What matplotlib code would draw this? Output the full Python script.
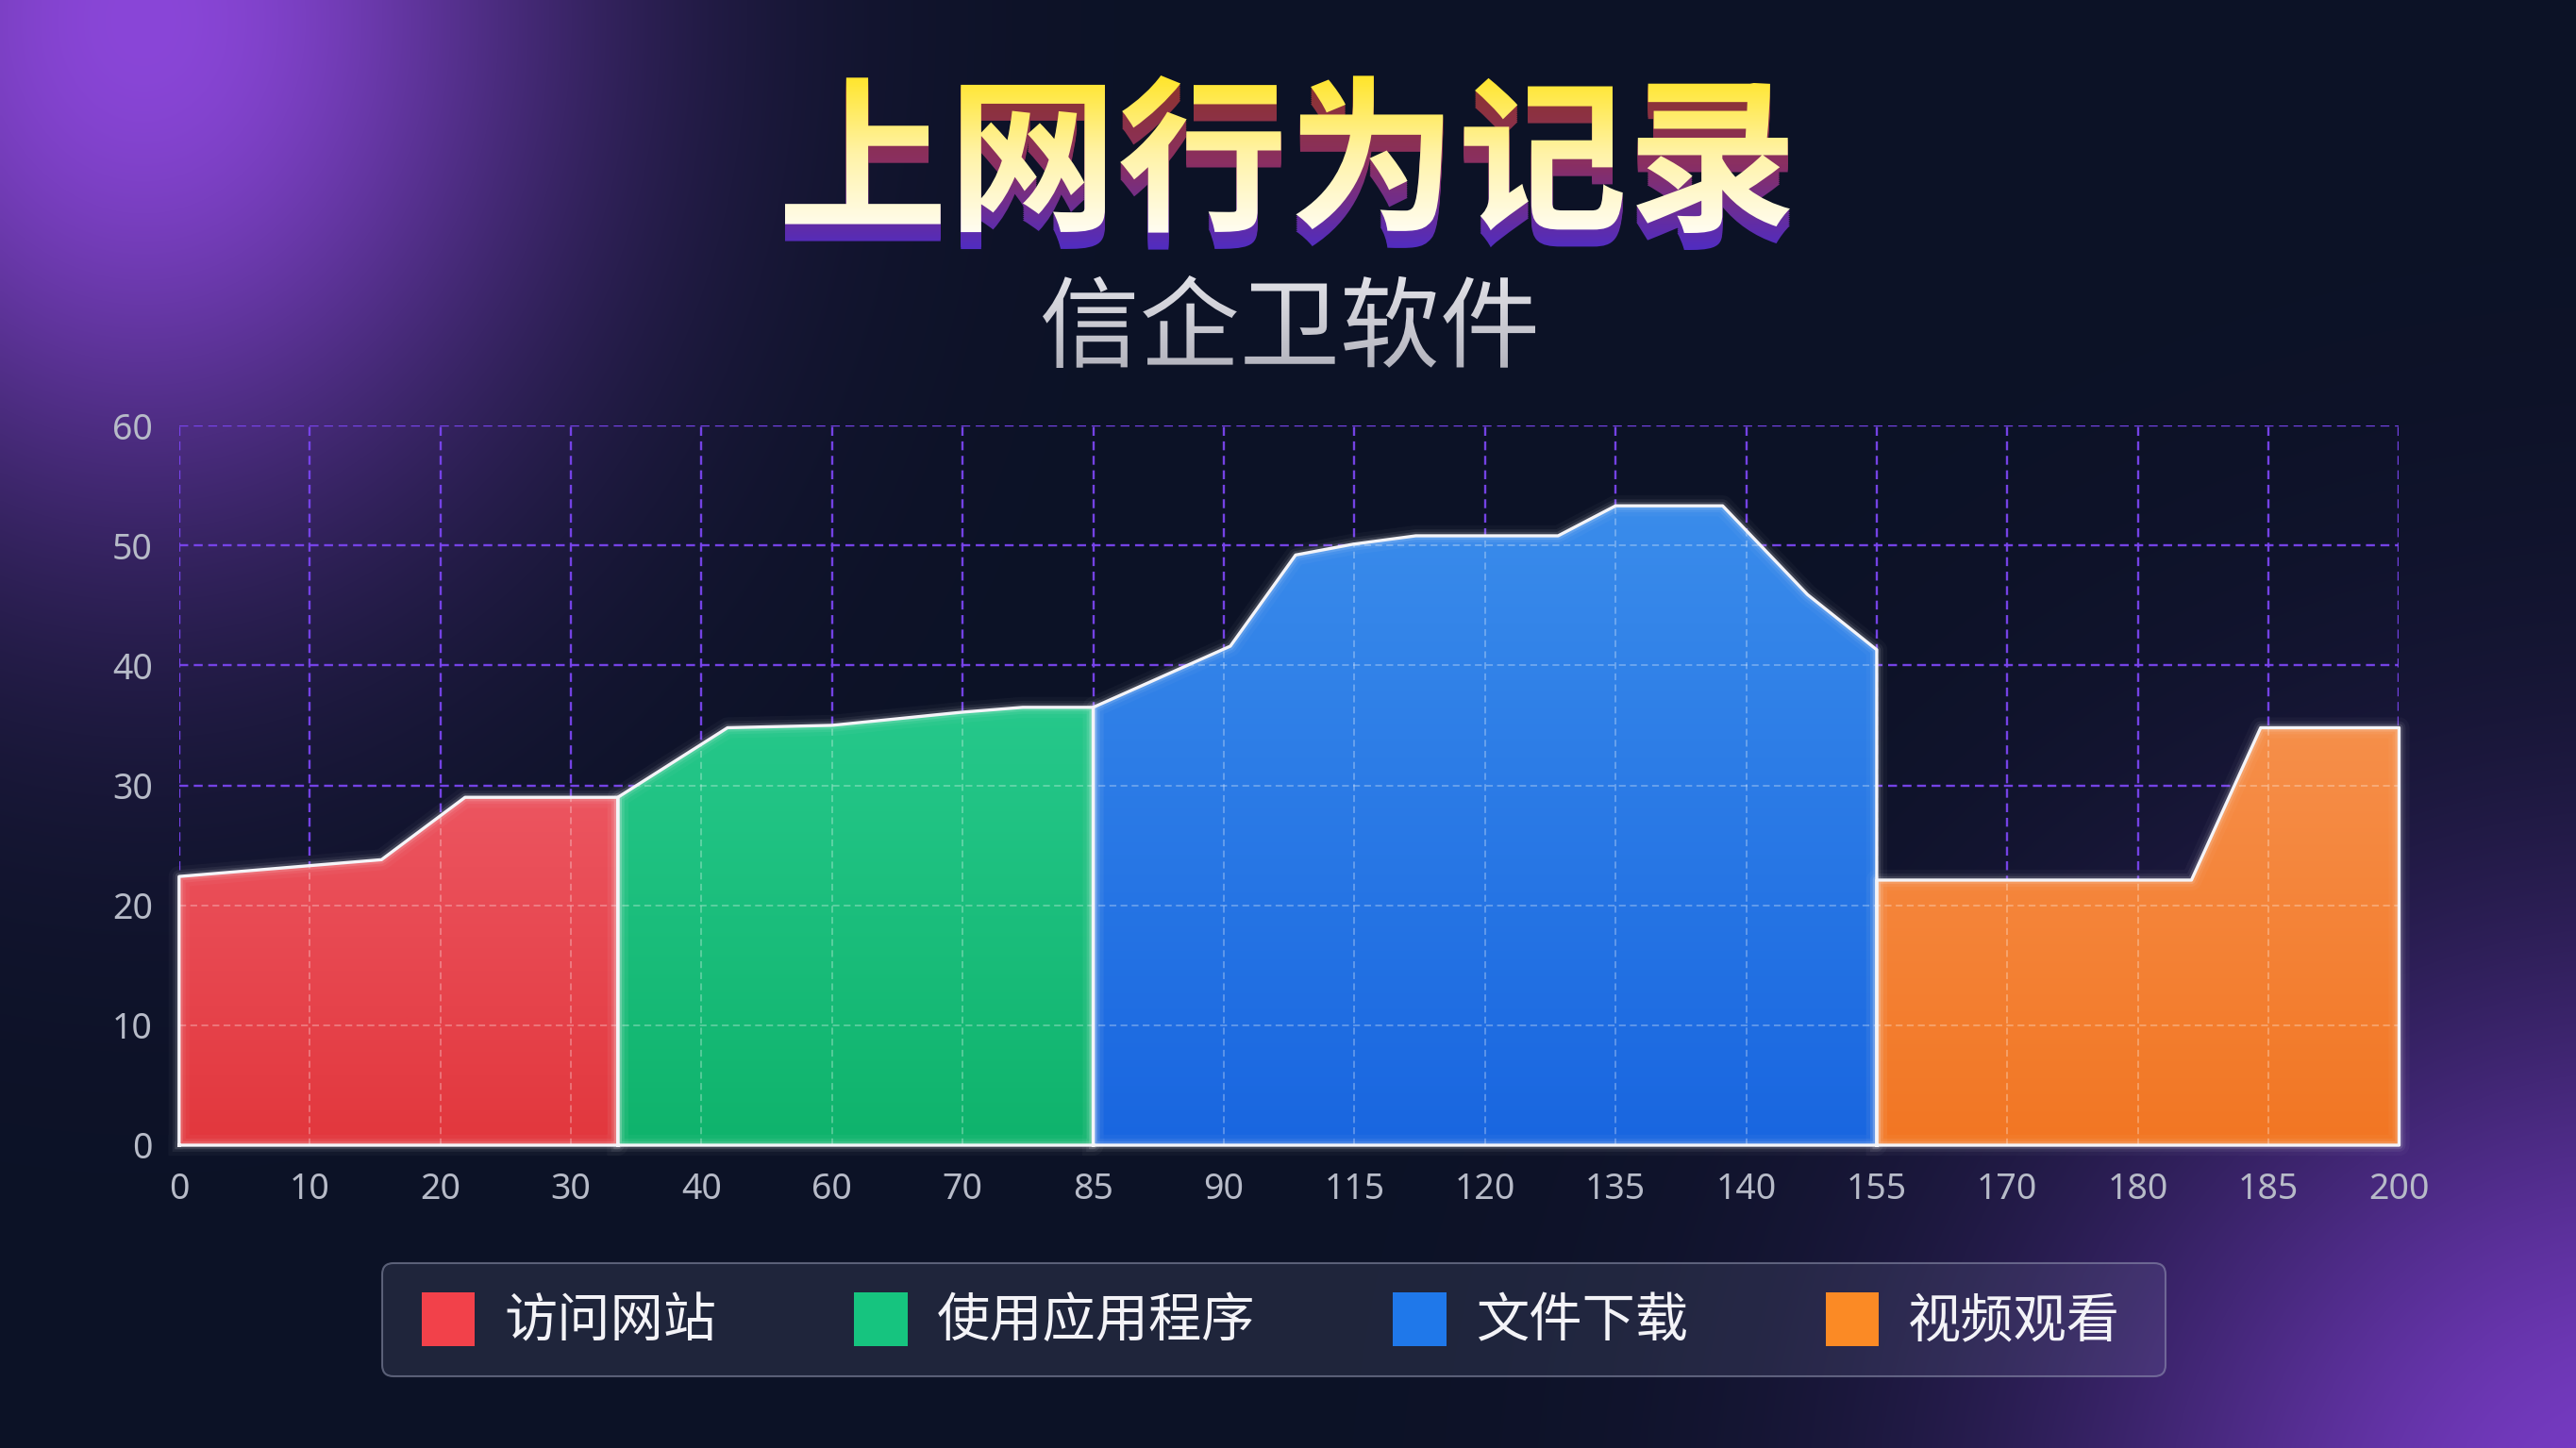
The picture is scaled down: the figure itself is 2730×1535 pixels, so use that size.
import numpy as np
import matplotlib
matplotlib.use('Agg')
import matplotlib.pyplot as plt
from matplotlib.patches import Patch, FancyBboxPatch
from matplotlib.textpath import TextPath
from matplotlib.font_manager import FontProperties
from matplotlib.transforms import Affine2D
from matplotlib.colors import to_rgb

plt.rcParams['font.family'] = ['Noto Sans', 'Noto Sans CJK SC', 'DejaVu Sans']

# --- données (x = position sur l'axe des catégories) ---
x_labels = ['0', '10', '20', '30', '40', '60', '70', '85', '90', '115',
            '120', '135', '140', '155', '170', '180', '185', '200']
y_ticks = [0, 10, 20, 30, 40, 50, 60]
series_names = ['访问网站', '使用应用程序', '文件下载', '视频观看']

visit_x = [0, 1.55, 2.19, 3.36]
visit_y = [22.4, 23.8, 29.0, 29.0]
app_x = [3.36, 4.2, 5.0, 6.0, 6.46, 7.0]
app_y = [29.0, 34.8, 35.0, 36.1, 36.5, 36.5]
download_x = [7.0, 8.05, 8.55, 8.99, 9.47, 10.56, 11.0, 11.82, 12.47, 13.0]
download_y = [36.5, 41.6, 49.2, 50.1, 50.8, 50.8, 53.3, 53.3, 45.9, 41.3]
video_x = [13.0, 15.41, 15.94, 17.0]
video_y = [22.1, 22.1, 34.8, 34.8]

title = '上网行为记录'
subtitle = '信企卫软件'

colors_top = ['#ec5560', '#26c88b', '#3a8ceb', '#f68f4a']
colors_bot = ['#e2373d', '#0fb36c', '#1966e0', '#f27623']
legend_colors = ['#f2414a', '#16c47f', '#1f78ea', '#fb8a25']

W, H = 2730, 1535
fig = plt.figure(figsize=(27.3, 15.35), dpi=100)

# fond avec halos violets
bg = fig.add_axes([0, 0, 1, 1], zorder=-10)
gy, gx = np.mgrid[0:H:4, 0:W:4]
base = np.array(to_rgb('#0c1226'))
g1 = np.exp(-((gx - 150) ** 2 / (2 * 320 ** 2) + (gy - 20) ** 2 / (2 * 380 ** 2)))
g2 = np.exp(-((gx - 2800) ** 2 + (gy - 1640) ** 2) / (2 * 430 ** 2))
img = (base + g1[..., None] * (np.array(to_rgb('#8a46d8')) - base)
       + g2[..., None] * (np.array(to_rgb('#7a3cc8')) - base))
bg.imshow(np.clip(img, 0, 1), extent=[0, W, H, 0], aspect='auto', interpolation='bilinear')
bg.set_xlim(0, W)
bg.set_ylim(H, 0)
bg.axis('off')

# graphique principal
ax = fig.add_axes([189.8 / W, 1 - 1214 / H, (2542.5 - 189.8) / W, (1214 - 451) / H], zorder=2)
ax.set_facecolor('none')

xs_all = [visit_x, app_x, download_x, video_x]
ys_all = [visit_y, app_y, download_y, video_y]
t = np.linspace(0, 1, 256)[:, None, None]

for xs, ys, ct, cb in zip(xs_all, ys_all, colors_top, colors_bot):
    poly = ax.fill_between(xs, ys, 0, color=cb, lw=0, zorder=2)
    clip = poly.get_paths()[0]
    grad = (1 - t) * np.array(to_rgb(ct)) + t * np.array(to_rgb(cb))
    im = ax.imshow(grad, extent=[xs[0], xs[-1], 0, max(ys)], aspect='auto',
                   zorder=2.1, interpolation='bilinear')
    im.set_clip_path(clip, ax.transData)
    # grille claire à l'intérieur des aires
    for xv in range(len(x_labels)):
        ln = ax.axvline(xv, color='white', alpha=0.3, lw=1.3, ls=(0, (4, 2.5)), zorder=2.5)
        ln.set_clip_path(clip, ax.transData)
    for yv in y_ticks:
        ln = ax.axhline(yv, color='white', alpha=0.3, lw=1.3, ls=(0, (4, 2.5)), zorder=2.5)
        ln.set_clip_path(clip, ax.transData)
    # contour blanc lumineux
    ox = [xs[0]] + list(xs) + [xs[-1], xs[0]]
    oy = [0] + list(ys) + [0, 0]
    for lw, a in [(16, 0.03), (10, 0.06), (6, 0.12)]:
        ax.plot(ox, oy, color='white', lw=lw, alpha=a, zorder=2.6,
                solid_joinstyle='round', clip_on=False)
    ax.plot(ox, oy, color='#f4f4f8', lw=2.4, zorder=2.7, solid_joinstyle='round', clip_on=False)

ax.set_xlim(0, len(x_labels) - 1)
ax.set_ylim(0, 60)
ax.set_xticks(range(len(x_labels)), x_labels)
ax.set_yticks(y_ticks)
ax.tick_params(length=0, labelsize=27, labelcolor='#b7bbc8')
ax.tick_params(axis='x', pad=20)
ax.tick_params(axis='y', pad=20)
for s in ax.spines.values():
    s.set_visible(False)
ax.grid(True, color='#7a45f0', lw=1.7, ls=(0, (4, 2.5)), alpha=0.95)
ax.set_axisbelow(True)

# titre et sous-titre
ov = fig.add_axes([0, 0, 1, 1], zorder=5)
ov.set_facecolor('none')


def fit_path(text, fp, x0, x1, ytop, ybot):
    tp = TextPath((0, 0), text, size=100, prop=fp)
    bb = tp.get_extents()
    sx = (x1 - x0) / bb.width
    sy = (ybot - ytop) / bb.height
    tr = Affine2D().translate(-bb.x0, -bb.y0).scale(sx, sy).translate(x0, H - ybot)
    return tr.transform_path(tp)


fp_title = FontProperties(family='Noto Sans CJK SC', weight='heavy')
face = fit_path(title, fp_title, 832, 1897, 80, 247)
fb = face.get_extents()

depth = 18
shadow_grad = np.concatenate([
    (1 - np.linspace(0, 1, 128)[:, None, None]) * np.array(to_rgb('#8e3428'))
    + np.linspace(0, 1, 128)[:, None, None] * np.array(to_rgb('#8a2f62')),
    (1 - np.linspace(0, 1, 128)[:, None, None]) * np.array(to_rgb('#8a2f62'))
    + np.linspace(0, 1, 128)[:, None, None] * np.array(to_rgb('#4f2cc4')),
])
for k in range(depth, 0, -2):
    sp = Affine2D().translate(0, -k).transform_path(face)
    im = ov.imshow(shadow_grad, extent=[fb.x0 - 5, fb.x1 + 5, fb.y0 - depth - 2, fb.y1],
                   aspect='auto', zorder=5, interpolation='bilinear')
    im.set_clip_path(sp, ov.transData)

face_grad = np.concatenate([
    (1 - np.linspace(0, 1, 128)[:, None, None]) * np.array(to_rgb('#ffe52a'))
    + np.linspace(0, 1, 128)[:, None, None] * np.array(to_rgb('#fff3a8')),
    (1 - np.linspace(0, 1, 128)[:, None, None]) * np.array(to_rgb('#fff3a8'))
    + np.linspace(0, 1, 128)[:, None, None] * np.array(to_rgb('#fffdf2')),
])
im = ov.imshow(face_grad, extent=[fb.x0, fb.x1, fb.y0, fb.y1], aspect='auto',
               zorder=6, interpolation='bilinear')
im.set_clip_path(face, ov.transData)

fp_sub = FontProperties(family='Noto Sans CJK SC', weight='normal')
sub = fit_path(subtitle, fp_sub, 1105, 1627, 292, 390)
sb = sub.get_extents()
sub_grad = (1 - t) * np.array(to_rgb('#e2e2e8')) + t * np.array(to_rgb('#b4b4be'))
im = ov.imshow(sub_grad, extent=[sb.x0, sb.x1, sb.y0, sb.y1], aspect='auto',
               zorder=6, interpolation='bilinear')
im.set_clip_path(sub, ov.transData)

# cadre de la légende
box = FancyBboxPatch((405, H - 1459), 2295 - 405, 1459 - 1339,
                     boxstyle='round,pad=0,rounding_size=12',
                     facecolor=(0.55, 0.58, 0.72, 0.15),
                     edgecolor=(0.62, 0.64, 0.74, 0.5), lw=1.5, zorder=4)
ov.add_patch(box)

ov.set_xlim(0, W)
ov.set_ylim(0, H)
ov.axis('off')

# légende
handles = [Patch(facecolor=c, edgecolor='none') for c in legend_colors]
leg = fig.legend(handles, series_names, loc='center',
                 bbox_to_anchor=(1347 / W, 1 - 1400 / H), ncol=4,
                 prop=FontProperties(family='Noto Sans CJK SC', size=40.5),
                 handlelength=1.0, handleheight=1.2, handletextpad=0.55,
                 columnspacing=2.6, borderpad=0.3, frameon=False,
                 labelcolor='#f3f3f7')
leg.set_zorder(6)

fig.savefig('out.png', dpi=100)
